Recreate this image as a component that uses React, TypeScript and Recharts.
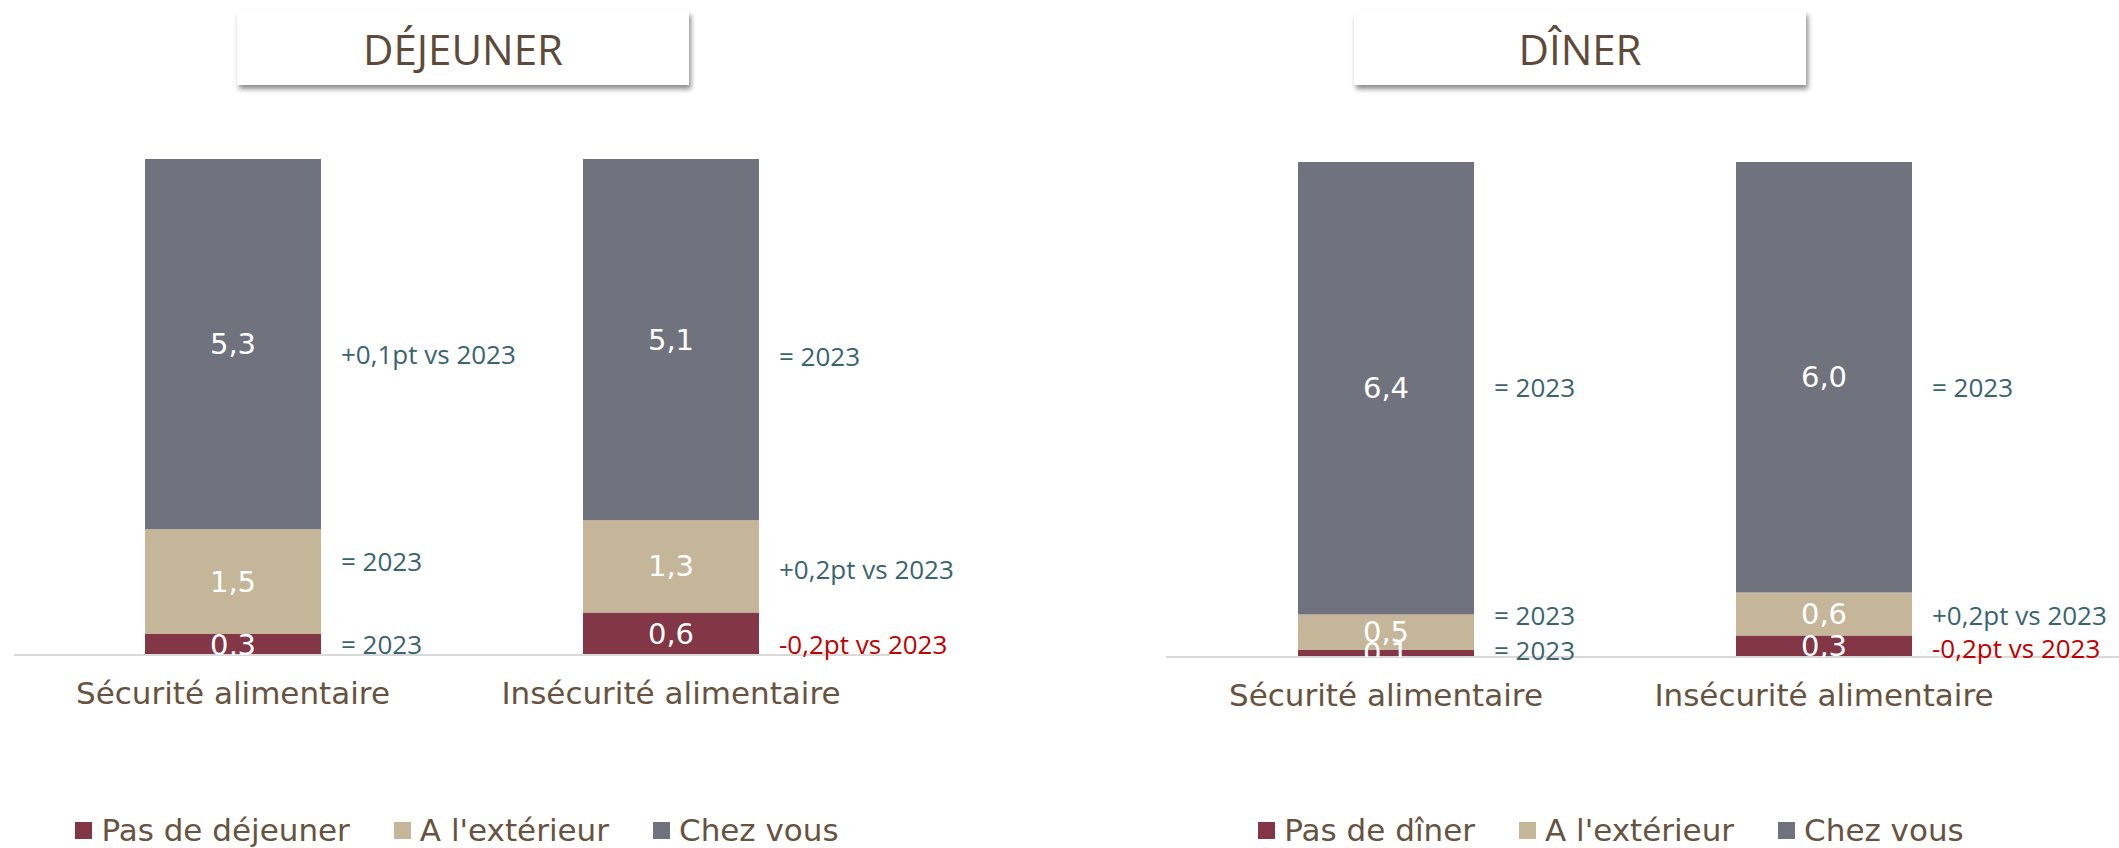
import React from 'react'
import { BarChart, Bar, XAxis, YAxis, Legend, LabelList } from 'recharts'

// jours par semaine, par situation alimentaire
const categories = ['Sécurité alimentaire', 'Insécurité alimentaire']

const lunchSkipped = [0.3, 0.6]
const lunchOutside = [1.5, 1.3]
const lunchHome = [5.3, 5.1]
const lunchSkippedNotes = ['= 2023', '-0,2pt vs 2023']
const lunchOutsideNotes = ['= 2023', '+0,2pt vs 2023']
const lunchHomeNotes = ['+0,1pt vs 2023', '= 2023']
const lunchNames = ['Pas de déjeuner', "A l'extérieur", 'Chez vous']

const dinnerSkipped = [0.1, 0.3]
const dinnerOutside = [0.5, 0.6]
const dinnerHome = [6.4, 6.0]
const dinnerSkippedNotes = ['= 2023', '-0,2pt vs 2023']
const dinnerOutsideNotes = ['= 2023', '+0,2pt vs 2023']
const dinnerHomeNotes = ['= 2023', '= 2023']
const dinnerNames = ['Pas de dîner', "A l'extérieur", 'Chez vous']

const COLORS = ['#823646', '#C5B69A', '#70737E']
const BROWN = '#67533F'
const WIDE_FONT = "'DejaVu Sans', sans-serif"
const NOTE_FONT = "'Open Sans', sans-serif"
const AXIS_HEIGHT = 60

const buildRows = (
  skipped: number[], outside: number[], home: number[],
  skippedNotes: string[], outsideNotes: string[], homeNotes: string[]
) =>
  categories.map((name, i) => ({
    name,
    skipped: skipped[i],
    outside: outside[i],
    home: home[i],
    skippedNote: skippedNotes[i],
    outsideNote: outsideNotes[i],
    homeNote: homeNotes[i],
  }))

const lunchRows = buildRows(lunchSkipped, lunchOutside, lunchHome, lunchSkippedNotes, lunchOutsideNotes, lunchHomeNotes)
const dinnerRows = buildRows(dinnerSkipped, dinnerOutside, dinnerHome, dinnerSkippedNotes, dinnerOutsideNotes, dinnerHomeNotes)

const box = (p: any) => {
  const v = p.viewBox && p.viewBox.width !== undefined ? p.viewBox : p
  return { x: Number(v.x), y: Number(v.y), width: Number(v.width), height: Number(v.height) }
}

const fmt = (v: any) => Number(v).toFixed(1).replace('.', ',')

type Layout = {
  left: number
  width: number
  height: number
  margin: { top: number; right: number; bottom: number; left: number }
  padding: { left: number; right: number }
  barSize: number
  legendLeft: number
  legendWidth: number
  nudges: Record<string, number[]>
}

const lunchLayout: Layout = {
  left: 0,
  width: 1100,
  height: 848,
  margin: { top: 159, right: 210, bottom: 848 - 655 - AXIS_HEIGHT, left: 14 },
  padding: { left: 0, right: 0 },
  barSize: 176,
  legendLeft: 0,
  legendWidth: 914,
  nudges: { skipped: [-1, 10], outside: [-21, 3], home: [10, 16] },
}

const dinnerLayout: Layout = {
  left: 1152,
  width: 967,
  height: 848,
  margin: { top: 162, right: 0, bottom: 848 - 657 - AXIS_HEIGHT, left: 14 },
  padding: { left: 1, right: 76 },
  barSize: 176,
  legendLeft: 0,
  legendWidth: 918,
  nudges: { skipped: [-3, 2], outside: [-17, 1], home: [-1, 10] },
}

function MealChart({ id, rows, names, layout }: { id: string; rows: any[]; names: string[]; layout: Layout }) {
  const plotTop = layout.margin.top
  const plotBottom = layout.height - layout.margin.bottom - AXIS_HEIGHT

  const valueLabel = (key: string) => (props: any) => {
    const { x, y, width, height } = box(props)
    const clipId = `${id}-${key}-${props.index}`
    return (
      <g>
        <defs>
          <clipPath id={clipId}>
            <rect x={x - 30} y={plotTop - 40} width={width + 60} height={plotBottom - plotTop + 40} />
          </clipPath>
        </defs>
        <text
          x={x + width / 2}
          y={y + height / 2}
          clipPath={`url(#${clipId})`}
          textAnchor="middle"
          dominantBaseline="central"
          fill="#ffffff"
          fontSize={29}
          fontFamily={WIDE_FONT}
        >
          {fmt(props.value)}
        </text>
      </g>
    )
  }

  const noteLabel = (key: string) => (props: any) => {
    const { x, y, width, height } = box(props)
    const dy = layout.nudges[key][props.index] ?? 0
    const text = String(props.value)
    return (
      <text
        x={x + width + 20}
        y={y + height / 2 + dy}
        dominantBaseline="central"
        fill={text.startsWith('-') ? '#C00000' : '#3A6470'}
        fontSize={26}
        fontFamily={NOTE_FONT}
      >
        {text}
      </text>
    )
  }

  const renderLegend = (props: any) => {
    const items = [...(props.payload || [])].sort(
      (a: any, b: any) => names.indexOf(a.value) - names.indexOf(b.value)
    )
    return (
      <div style={{ display: 'flex', justifyContent: 'center', alignItems: 'center', gap: 44 }}>
        {items.map((entry: any) => (
          <div key={entry.value} style={{ display: 'flex', alignItems: 'center' }}>
            <span style={{ width: 17, height: 17, background: entry.color, marginRight: 9, display: 'inline-block' }} />
            <span style={{ fontFamily: WIDE_FONT, fontSize: 31, color: BROWN, lineHeight: '36px' }}>
              {entry.value}
            </span>
          </div>
        ))}
      </div>
    )
  }

  const keys = ['skipped', 'outside', 'home']

  return (
    <div style={{ position: 'absolute', left: layout.left, top: 0 }}>
      <BarChart width={layout.width} height={layout.height} data={rows} margin={layout.margin} stackOffset="expand">
        <XAxis
          dataKey="name"
          interval={0}
          height={AXIS_HEIGHT}
          padding={layout.padding}
          tickLine={false}
          tickMargin={21}
          axisLine={{ stroke: '#D9D9D9', strokeWidth: 2 }}
          tick={{ fill: BROWN, fontSize: 31, fontFamily: WIDE_FONT }}
        />
        <YAxis hide domain={[0, 1]} />
        <Legend
          layout="horizontal"
          verticalAlign="middle"
          align="center"
          wrapperStyle={{ top: 812, left: layout.legendLeft, width: layout.legendWidth }}
          content={renderLegend}
        />
        {keys.map((key, i) => (
          <Bar
            key={key}
            dataKey={key}
            name={names[i]}
            stackId="meal"
            fill={COLORS[i]}
            barSize={layout.barSize}
            isAnimationActive={false}
          >
            <LabelList dataKey={key} content={valueLabel(key)} />
            <LabelList dataKey={`${key}Note`} content={noteLabel(key)} />
          </Bar>
        ))}
      </BarChart>
    </div>
  )
}

const TitleBox = ({ text, left }: { text: string; left: number }) => (
  <div
    style={{
      position: 'absolute',
      left,
      top: 11,
      width: 452,
      height: 74,
      background: '#ffffff',
      boxShadow: '2px 4px 5px rgba(0,0,0,0.45)',
      display: 'flex',
      alignItems: 'center',
      justifyContent: 'center',
      fontFamily: NOTE_FONT,
      fontSize: 42,
      color: '#5E4A3A',
      zIndex: 2,
    }}
  >
    {text}
  </div>
)

export default function App() {
  return (
    <div style={{ position: 'absolute', left: 0, top: 0, width: 2119, height: 848, background: '#ffffff', overflow: 'hidden' }}>
      <MealChart id="lunch" rows={lunchRows} names={lunchNames} layout={lunchLayout} />
      <MealChart id="dinner" rows={dinnerRows} names={dinnerNames} layout={dinnerLayout} />
      <TitleBox text="DÉJEUNER" left={237} />
      <TitleBox text="DÎNER" left={1354} />
    </div>
  )
}
